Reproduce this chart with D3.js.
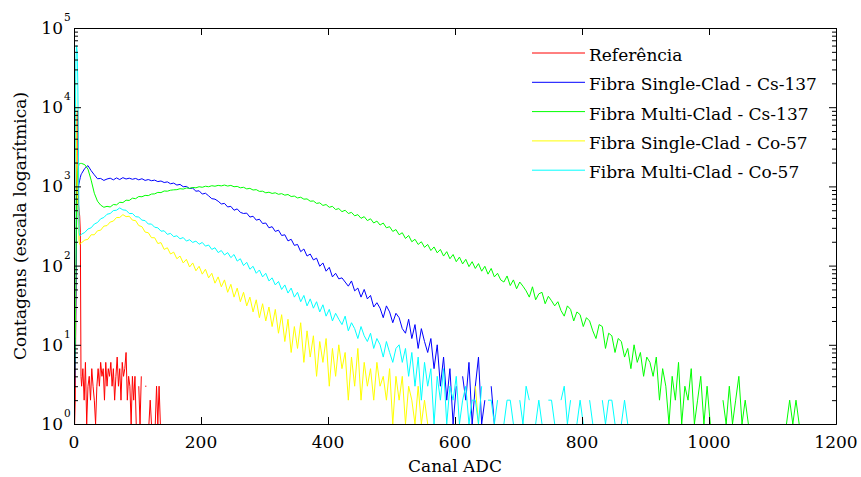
<!DOCTYPE html>
<html>
<head>
<meta charset="utf-8">
<script src="https://cdn.jsdelivr.net/npm/d3@7"></script>
<style>
  body { margin: 0; background: #fff; }
  text { font-family: "DejaVu Serif", serif; fill: #000; }
</style>
</head>
<body>
<div id="grafico"></div>
<script>
// nomes e cores das curvas (ordem do plot)
const nomes = ["Referência", "Fibra Single-Clad - Cs-137", "Fibra Multi-Clad - Cs-137",
               "Fibra Single-Clad - Co-57", "Fibra Multi-Clad - Co-57"];
const cores = ["#ff0000", "#0000ff", "#00ff00", "#ffff00", "#00ffff"];

const xTicks = [0, 200, 400, 600, 800, 1000, 1200];
const yExpoentes = [0, 1, 2, 3, 4, 5];

// contagens: canais 0..11 um a um, depois a partir do canal 12 com passo fixo
const passoRef = 2, passo = 5;

const refIni = [0, 1, 2, 40, 900, 8300, 9000, 600, 500, 420, 260, 4];
const refCauda = [3, 5, 2, 6, 1, 3, 4, 2, 5, 3,
  2, 1, 3, 5, 3, 6, 4, 5, 2, 6,
  3, 5, 4, 6, 3, 5, 2, 4, 7, 3,
  5, 2, 6, 4, 5, 8, 2, 4, 3, 1,
  4, 2, 4, 1, 0, 3, 1, 4, 0, 0,
  3, 3, 0, 1, 2, 1, 0, 0, 1, 3,
  1, 3, 1, 0, 0];

const singleCsIni = [2, 3, 6, 40, 300, 700, 900, 1000, 1100, 1200, 1300, 1400];
const singleCsCauda = [1450, 1690, 1830, 1580, 1400, 1250, 1260, 1190, 1240, 1270,
  1210, 1280, 1220, 1290, 1240, 1270, 1230, 1260, 1210, 1250,
  1190, 1220, 1180, 1200, 1150, 1170, 1120, 1140, 1080, 1100,
  1040, 1060, 990, 1000, 940, 950, 870, 880, 800, 820,
  760, 700, 690, 650, 600, 610, 550, 560, 500, 520,
  470, 455, 460, 410, 420, 375, 385, 340, 345, 300,
  310, 270, 280, 240, 245, 205, 215, 180, 185, 150,
  162, 132, 140, 118, 124, 98, 108, 85, 95, 72,
  80, 68, 70, 62, 55, 64, 48, 52, 40, 50,
  38, 42, 30, 34, 29, 22, 31, 26, 19, 25,
  22, 16, 14, 21, 12, 18, 9, 16, 11, 8,
  12, 5, 10, 3, 7, 2, 5, 1, 3, 0,
  4, 2, 6, 1, 3, 7, 1, 2, 0, 3,
  1, 0];

const multiCsIni = [1, 4, 12, 80, 500, 1100, 1600, 1800, 1900, 1950, 1950, 1950];
const multiCsCauda = [1950, 1880, 1650, 1200, 820, 650, 580, 545, 560, 550,
  590, 585, 630, 625, 670, 665, 710, 700, 745, 740,
  770, 765, 800, 805, 840, 835, 875, 870, 895, 905,
  910, 935, 925, 955, 945, 970, 960, 990, 975, 1005,
  990, 1020, 1005, 1030, 1015, 1040, 1010, 1030, 990, 1000,
  960, 975, 930, 945, 900, 910, 865, 870, 830, 845,
  815, 830, 795, 810, 775, 790, 745, 755, 715, 730,
  690, 695, 650, 655, 610, 620, 575, 590, 545, 560,
  510, 525, 480, 500, 455, 470, 425, 440, 395, 415,
  370, 390, 345, 365, 325, 345, 300, 310, 270, 285,
  245, 260, 220, 240, 200, 215, 185, 200, 170, 185,
  155, 172, 145, 160, 132, 150, 122, 138, 112, 128,
  105, 120, 97, 112, 92, 106, 85, 98, 78, 92,
  72, 80, 66, 62, 74, 56, 66, 51, 62, 55,
  48, 40, 54, 37, 44, 46, 33, 41, 36, 31,
  35, 27, 23, 31, 28, 20, 26, 24, 17, 22,
  20, 15, 12, 18, 17, 9, 14, 13, 8, 12,
  11, 7, 9, 5, 10, 6, 8, 4, 7, 6,
  4, 7, 2, 5, 3, 1, 4, 2, 6, 1,
  3, 2, 5, 1, 2, 4, 1, 3, 1, 0,
  0, 0, 2, 1, 3, 1, 2, 4, 1, 2,
  1, 0, 0, 0, 0, 0, 0, 0, 0, 0,
  0, 0, 1, 2, 1, 2, 1, 0];

const singleCoIni = [2, 12, 22000, 9000, 2500, 900, 600, 400, 200, 185, 190, 195];
const singleCoCauda = [195, 210, 215, 245, 245, 275, 280, 315, 320, 355,
  365, 405, 405, 440, 415, 420, 375, 370, 320, 310,
  265, 260, 225, 225, 190, 195, 160, 168, 140, 148,
  122, 132, 108, 120, 96, 108, 86, 98, 78, 90,
  70, 80, 60, 72, 54, 66, 46, 58, 40, 52,
  35, 46, 31, 40, 26, 37, 22, 33, 20, 30,
  17, 28, 14, 24, 11, 21, 8, 17, 9, 19,
  6, 15, 7, 13, 4, 11, 6, 12, 3, 9,
  4, 10, 5, 8, 2, 7, 3, 9, 2, 6,
  3, 5, 2, 6, 3, 4, 2, 5, 1, 4,
  2, 4, 1, 3, 2, 1, 3, 1, 2, 1,
  0, 0, 1, 0, 0, 0, 0, 0, 0, 0,
  0, 0, 0, 0, 3, 1, 0];

const multiCoIni = [1, 30, 5000, 40000, 60000, 50000, 20000, 3000, 260, 240, 240, 245];
const multiCoCauda = [250, 262, 290, 300, 335, 350, 390, 405, 445, 455,
  495, 500, 535, 505, 500, 455, 455, 415, 410, 375,
  370, 335, 335, 305, 300, 272, 275, 248, 255, 232,
  238, 218, 226, 204, 212, 196, 204, 186, 196, 176,
  182, 160, 168, 146, 155, 136, 146, 126, 138, 114,
  122, 100, 110, 90, 98, 80, 88, 72, 80, 64,
  70, 57, 63, 50, 57, 45, 52, 40, 46, 35,
  42, 31, 38, 29, 35, 26, 32, 23, 28, 20,
  25, 21, 18, 23, 15, 19, 16, 12, 17, 13,
  11, 14, 9, 12, 10, 7, 11, 8, 6, 9,
  10, 6, 9, 4, 8, 3, 7, 2, 6, 3,
  5, 1, 4, 2, 5, 1, 3, 2, 4, 1,
  2, 3, 1, 2, 2, 1, 3, 0, 2, 2,
  1, 2, 0, 1, 2, 2, 1, 0, 2, 1,
  3, 2, 0, 1, 2, 1, 0, 2, 2, 1,
  0, 2, 3, 1, 2, 0, 1, 2, 1, 0,
  2, 1, 0, 0, 2, 1, 2, 2, 1, 0,
  1, 2, 1, 0, 0];

const width = 861, height = 477;
const margin = {top: 28, right: 25, bottom: 53, left: 74};
const W = width - margin.left - margin.right;
const H = height - margin.top - margin.bottom;

const svg = d3.select("#grafico")
    .append("svg")
    .attr("width", width)
    .attr("height", height)
    .append("g")
    .attr("transform", `translate(${margin.left},${margin.top})`);

// scales
const x = d3.scaleLinear().domain([0, 1200]).range([0, W]);
const y = d3.scaleLog().domain([1, 1e5]).range([H, 0]);

// junta o inicio (canal a canal) e a cauda (passo fixo)
function pontos(ini, cauda, p) {
    const a = ini.map((v, i) => ({c: i, v: v}));
    const b = cauda.map((v, j) => ({c: ini.length + j * p, v: v}));
    return a.concat(b);
}

const series = [
    pontos(refIni, refCauda, passoRef),
    pontos(singleCsIni, singleCsCauda, passo),
    pontos(multiCsIni, multiCsCauda, passo),
    pontos(singleCoIni, singleCoCauda, passo),
    pontos(multiCoIni, multiCoCauda, passo)
];

svg.append("clipPath").attr("id", "area")
    .append("rect").attr("width", W).attr("height", H);

// contagem zero nao aparece em escala log
const linha = d3.line()
    .defined(d => d.v > 0)
    .x(d => x(d.c))
    .y(d => y(d.v));

svg.append("g")
    .attr("clip-path", "url(#area)")
    .selectAll("path")
    .data(series)
    .join("path")
    .attr("d", linha)
    .attr("fill", "none")
    .attr("stroke", (d, i) => cores[i])
    .attr("stroke-width", 1);

// axes (ticks para dentro, como no matlab)
const yMenores = [];
yExpoentes.slice(0, -1).forEach(e => {
    for (let k = 2; k <= 9; k++) yMenores.push(k * Math.pow(10, e));
});

function estilo(g) {
    g.selectAll("path, line").attr("stroke", "#000");
    g.selectAll("text").remove();
}

svg.append("g").attr("transform", `translate(0,${H})`)
    .call(d3.axisBottom(x).tickValues(xTicks).tickSizeInner(-7).tickSizeOuter(0).tickFormat(""))
    .call(estilo);
svg.append("g")
    .call(d3.axisTop(x).tickValues(xTicks).tickSizeInner(-7).tickSizeOuter(0).tickFormat(""))
    .call(estilo);
svg.append("g")
    .call(d3.axisLeft(y).tickValues(yExpoentes.map(e => Math.pow(10, e))).tickSizeInner(-7).tickSizeOuter(0).tickFormat(""))
    .call(estilo);
svg.append("g").attr("transform", `translate(${W},0)`)
    .call(d3.axisRight(y).tickValues(yExpoentes.map(e => Math.pow(10, e))).tickSizeInner(-7).tickSizeOuter(0).tickFormat(""))
    .call(estilo);
svg.append("g")
    .call(d3.axisLeft(y).tickValues(yMenores).tickSizeInner(-4).tickSizeOuter(0).tickFormat(""))
    .call(estilo);
svg.append("g").attr("transform", `translate(${W},0)`)
    .call(d3.axisRight(y).tickValues(yMenores).tickSizeInner(-4).tickSizeOuter(0).tickFormat(""))
    .call(estilo);

// tick labels
svg.append("g").selectAll("text")
    .data(xTicks)
    .join("text")
    .attr("x", d => x(d))
    .attr("y", H + 24)
    .attr("text-anchor", "middle")
    .style("font-size", "17px")
    .text(d => d);

const yLab = svg.append("g").selectAll("g")
    .data(yExpoentes)
    .join("g")
    .attr("transform", d => `translate(-11,${y(Math.pow(10, d))})`);
yLab.append("text")
    .attr("y", 6)
    .attr("text-anchor", "end")
    .style("font-size", "17px")
    .text("10");
yLab.append("text")
    .attr("x", 1)
    .attr("y", -7)
    .style("font-size", "10.5px")
    .text(d => d);

// axis titles
svg.append("text")
    .attr("x", W / 2)
    .attr("y", H + 48)
    .attr("text-anchor", "middle")
    .style("font-size", "17px")
    .text("Canal ADC");
svg.append("text")
    .attr("transform", `translate(${-margin.left + 26},${H / 2}) rotate(-90)`)
    .attr("text-anchor", "middle")
    .style("font-size", "17px")
    .text("Contagens (escala logarítmica)");

// legenda
const leg = svg.append("g")
    .attr("transform", `translate(${532 - margin.left},${53 - margin.top})`);
nomes.forEach((n, i) => {
    leg.append("line")
        .attr("x1", 0).attr("x2", 53)
        .attr("y1", i * 29.3).attr("y2", i * 29.3)
        .attr("stroke", cores[i])
        .attr("stroke-width", 1);
    leg.append("text")
        .attr("x", 57)
        .attr("y", i * 29.3 + 8)
        .style("font-size", "17px")
        .text(n);
});
</script>
</body>
</html>
